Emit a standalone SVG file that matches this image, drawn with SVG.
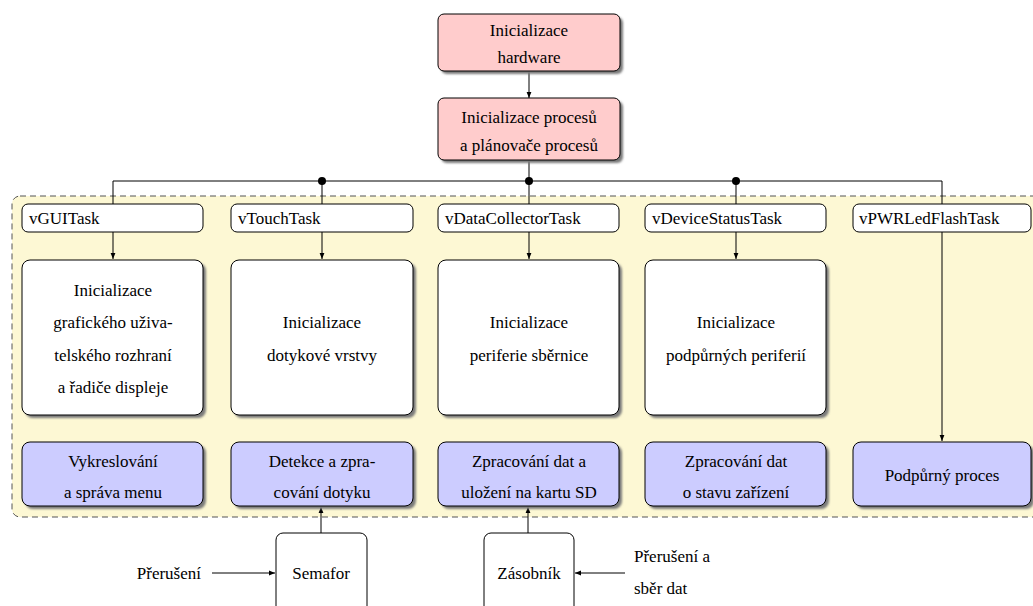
<svg xmlns="http://www.w3.org/2000/svg" width="1033" height="606" viewBox="0 0 1033 606">
  <defs>
    <marker id="arr" viewBox="0 0 10 10" refX="10" refY="5" markerWidth="6" markerHeight="6" orient="auto" markerUnits="userSpaceOnUse">
      <path d="M0,1 L10,5 L0,9 z" fill="#000"/>
    </marker>
    <filter id="sh" x="-10%" y="-10%" width="130%" height="130%">
      <feGaussianBlur stdDeviation="1.2"/>
    </filter>
  </defs>
  <style>
    .c { text-anchor: middle; }
    .box { stroke: #000; stroke-width: 1; }
    .shadow { fill: #7a7a7a; filter: url(#sh); }
    .pink { fill: #ffcccc; }
    .blue { fill: #ccccff; }
    .white { fill: #ffffff; }
    .wire { fill: none; stroke: #000; stroke-width: 1; }
  </style>

  <rect width="1033" height="606" fill="#fff"/>

  <!-- task area -->
  <g id="task-area">
    <rect x="12" y="196" width="1040" height="321" rx="8" fill="#fdf8d4" stroke="#555" stroke-width="1" stroke-dasharray="6,4"/>
  </g>

  <!-- connectors -->
  <g id="connectors">
    <line class="wire" x1="529" y1="71" x2="529" y2="98" marker-end="url(#arr)"/>
    <line class="wire" x1="529" y1="160" x2="529" y2="204"/>
    <polyline class="wire" points="113,204 113,181 942,181 942,204"/>
    <line class="wire" x1="322" y1="181" x2="322" y2="204"/>
    <line class="wire" x1="736" y1="181" x2="736" y2="204"/>
    <circle cx="322" cy="181" r="4" fill="#000"/>
    <circle cx="529" cy="181" r="4" fill="#000"/>
    <circle cx="736" cy="181" r="4" fill="#000"/>
    <line class="wire" x1="113" y1="232" x2="113" y2="259" marker-end="url(#arr)"/>
    <line class="wire" x1="322" y1="232" x2="322" y2="259" marker-end="url(#arr)"/>
    <line class="wire" x1="529" y1="232" x2="529" y2="259" marker-end="url(#arr)"/>
    <line class="wire" x1="736" y1="232" x2="736" y2="259" marker-end="url(#arr)"/>
    <line class="wire" x1="942" y1="232" x2="942" y2="441" marker-end="url(#arr)"/>
    <line class="wire" x1="321" y1="533" x2="321" y2="507" marker-end="url(#arr)"/>
    <line class="wire" x1="528" y1="533" x2="528" y2="507" marker-end="url(#arr)"/>
    <line class="wire" x1="212" y1="573" x2="275" y2="573" marker-end="url(#arr)"/>
    <line class="wire" x1="625" y1="573" x2="575" y2="573" marker-end="url(#arr)"/>
  </g>

  <g font-family="Liberation Serif, Tinos, Times New Roman, serif" font-size="17" fill="#000">
  <!-- start-up nodes -->
  <g id="init-hw">
    <rect class="shadow" x="441" y="17" width="182" height="57" rx="6"/>
    <rect class="box pink" x="438" y="14" width="182" height="57" rx="6"/>
    <text class="c" x="529" y="36">Inicializace</text>
    <text class="c" x="529" y="63">hardware</text>
  </g>
  <g id="init-sched">
    <rect class="shadow" x="441" y="101" width="182" height="62" rx="6"/>
    <rect class="box pink" x="438" y="98" width="182" height="62" rx="6"/>
    <text class="c" x="529" y="123">Inicializace procesů</text>
    <text class="c" x="529" y="151">a plánovače procesů</text>
  </g>

  <!-- task labels -->
  <g id="task-gui">
    <rect class="box white" x="22" y="204" width="181" height="28" rx="6"/>
    <text x="29" y="224">vGUITask</text>
  </g>
  <g id="task-touch">
    <rect class="box white" x="231" y="204" width="182" height="28" rx="6"/>
    <text x="238" y="224">vTouchTask</text>
  </g>
  <g id="task-data">
    <rect class="box white" x="438" y="204" width="181" height="28" rx="6"/>
    <text x="445" y="224">vDataCollectorTask</text>
  </g>
  <g id="task-status">
    <rect class="box white" x="645" y="204" width="181" height="28" rx="6"/>
    <text x="652" y="224">vDeviceStatusTask</text>
  </g>
  <g id="task-pwr">
    <rect class="box white" x="853" y="204" width="178" height="28" rx="6"/>
    <text x="859" y="224">vPWRLedFlashTask</text>
  </g>

  <!-- initialisation steps -->
  <g id="init-gui">
    <rect class="shadow" x="25" y="263" width="181" height="155" rx="8"/>
    <rect class="box white" x="22" y="260" width="181" height="155" rx="8"/>
    <text class="c" x="113" y="296">Inicializace</text>
    <text class="c" x="113" y="328">grafického uživa-</text>
    <text class="c" x="113" y="361">telského rozhraní</text>
    <text class="c" x="113" y="393">a řadiče displeje</text>
  </g>
  <g id="init-touch">
    <rect class="shadow" x="234" y="263" width="182" height="155" rx="8"/>
    <rect class="box white" x="231" y="260" width="182" height="155" rx="8"/>
    <text class="c" x="322" y="328">Inicializace</text>
    <text class="c" x="322" y="361">dotykové vrstvy</text>
  </g>
  <g id="init-bus">
    <rect class="shadow" x="441" y="263" width="181" height="155" rx="8"/>
    <rect class="box white" x="438" y="260" width="181" height="155" rx="8"/>
    <text class="c" x="529" y="328">Inicializace</text>
    <text class="c" x="529" y="361">periferie sběrnice</text>
  </g>
  <g id="init-periph">
    <rect class="shadow" x="648" y="263" width="181" height="155" rx="8"/>
    <rect class="box white" x="645" y="260" width="181" height="155" rx="8"/>
    <text class="c" x="736" y="328">Inicializace</text>
    <text class="c" x="736" y="361">podpůrných periferií</text>
  </g>

  <!-- running processes -->
  <g id="proc-gui">
    <rect class="shadow" x="25" y="445" width="181" height="64" rx="8"/>
    <rect class="box blue" x="22" y="442" width="181" height="64" rx="8"/>
    <text class="c" x="113" y="467">Vykreslování</text>
    <text class="c" x="113" y="498">a správa menu</text>
  </g>
  <g id="proc-touch">
    <rect class="shadow" x="234" y="445" width="182" height="64" rx="8"/>
    <rect class="box blue" x="231" y="442" width="182" height="64" rx="8"/>
    <text class="c" x="322" y="467">Detekce a zpra-</text>
    <text class="c" x="322" y="498">cování dotyku</text>
  </g>
  <g id="proc-data">
    <rect class="shadow" x="441" y="445" width="181" height="64" rx="8"/>
    <rect class="box blue" x="438" y="442" width="181" height="64" rx="8"/>
    <text class="c" x="529" y="467">Zpracování dat a</text>
    <text class="c" x="529" y="498">uložení na kartu SD</text>
  </g>
  <g id="proc-status">
    <rect class="shadow" x="648" y="445" width="181" height="64" rx="8"/>
    <rect class="box blue" x="645" y="442" width="181" height="64" rx="8"/>
    <text class="c" x="736" y="467">Zpracování dat</text>
    <text class="c" x="736" y="498">o stavu zařízení</text>
  </g>
  <g id="proc-pwr">
    <rect class="shadow" x="856" y="445" width="178" height="64" rx="8"/>
    <rect class="box blue" x="853" y="442" width="178" height="64" rx="8"/>
    <text class="c" x="942" y="481">Podpůrný proces</text>
  </g>

  <!-- synchronisation objects -->
  <g id="semafor">
    <rect class="box white" x="276" y="533" width="91" height="90" rx="7"/>
    <text class="c" x="321" y="579">Semafor</text>
  </g>
  <g id="zasobnik">
    <rect class="box white" x="484" y="533" width="90" height="90" rx="7"/>
    <text class="c" x="529" y="579">Zásobník</text>
  </g>
  <g id="src-irq">
    <text x="201" y="579" text-anchor="end">Přerušení</text>
  </g>
  <g id="src-irq-data">
    <text x="634" y="562">Přerušení a</text>
    <text x="634" y="594">sběr dat</text>
  </g>
  </g>
</svg>
